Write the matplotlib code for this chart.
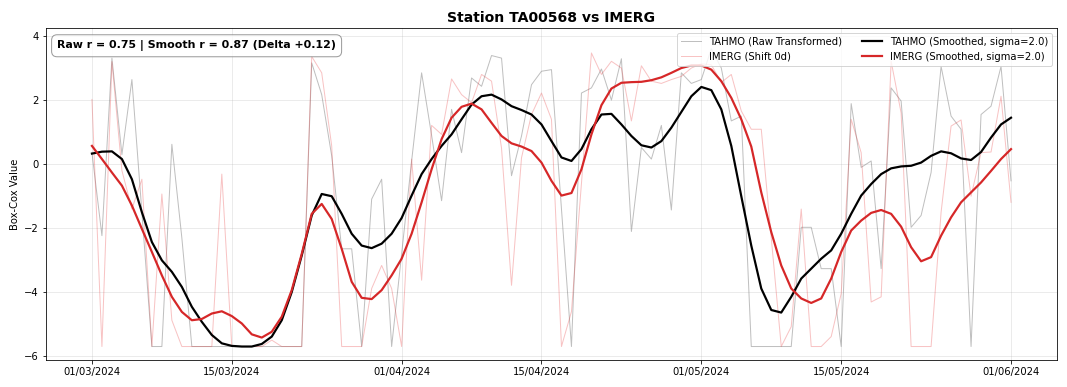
import matplotlib
matplotlib.use("Agg")
import matplotlib.pyplot as plt
import matplotlib.dates as mdates
import pandas as pd
import numpy as np

dates = pd.date_range("2024-03-01", "2024-06-01", freq="D")

tahmo_raw = [0.36, -2.23, 3.31, 0.3, 2.64, -1.5, -5.69, -5.69, 0.62, -2.3,
             -5.69, -5.69, -5.69, -5.69, -5.69, -5.69, -5.69, -5.69, -5.69, -5.69,
             -5.69, -5.69, 3.16, 2.17, 0.26, -2.64, -2.64, -5.69, -1.09, -0.47,
             -5.69, -2.8, 0.1, 2.85, 0.9, -1.14, 1.71, 0.36, 2.69, 2.43,
             3.39, 3.31, -0.36, 0.88, 2.48, 2.9, 2.95, -1.4, -5.69, 2.22,
             2.38, 2.97, 2.0, 3.29, -2.1, 0.52, 0.16, 1.21, -1.43, 2.85,
             2.52, 2.64, 3.6, 3.0, 1.35, 1.5, -5.69, -5.69, -5.69, -5.69,
             -5.69, -1.97, -1.97, -3.26, -3.26, -5.69, 1.89, -0.1, 0.1, -3.26,
             2.38, 1.97, -1.97, -1.6, -0.26, 3.05, 1.5, 1.09, -5.69, 1.55,
             1.81, 3.05, -0.52]

imerg_raw = [2.02, -5.69, 3.2, -0.2, -1.4, -0.47, -5.69, -0.93, -4.87, -5.69,
             -5.69, -5.69, -5.69, -0.31, -5.69, -5.69, -5.69, -5.69, -5.49, -5.69,
             -5.69, -5.69, 3.36, 2.85, 0.57, -5.69, -5.69, -5.69, -3.88, -3.16,
             -3.88, -5.69, 0.16, -3.62, 1.21, 0.93, 2.66, 2.17, 1.92, 2.8,
             2.59, 0.5, -3.78, 0.2, 1.55, 2.22, 1.4, -5.69, -4.6, -0.6,
             3.47, 2.8, 3.21, 3.0, 1.35, 3.07, 2.59, 2.52, 2.64, 2.74,
             3.0, 3.13, 3.1, 2.55, 2.8, 1.66, 1.09, 1.09, -2.3, -5.69,
             -5.07, -1.4, -5.69, -5.69, -5.38, -4.04, 1.4, 0.36, -4.3, -4.14,
             3.21, 1.6, -5.69, -5.69, -5.69, -1.5, 1.19, 1.38, -1.0, 0.36,
             0.38, 2.12, -1.19]

tahmo_smooth = [0.33, 0.39, 0.40, 0.16, -0.47, -1.5, -2.43, -3.0, -3.36, -3.83,
                -4.45, -4.92, -5.33, -5.59, -5.67, -5.69, -5.69, -5.61, -5.38, -4.87,
                -3.99, -2.85, -1.6, -0.93, -1.0, -1.55, -2.17, -2.54, -2.62, -2.48,
                -2.17, -1.68, -0.98, -0.31, 0.16, 0.57, 0.93, 1.4, 1.86, 2.12,
                2.17, 2.02, 1.81, 1.69, 1.55, 1.24, 0.72, 0.21, 0.10, 0.47,
                1.09, 1.55, 1.57, 1.24, 0.88, 0.59, 0.52, 0.72, 1.14, 1.63,
                2.12, 2.41, 2.31, 1.71, 0.57, -1.0, -2.54, -3.88, -4.55, -4.63,
                -4.14, -3.57, -3.26, -2.95, -2.69, -2.17, -1.55, -0.98, -0.62, -0.31,
                -0.13, -0.07, -0.05, 0.05, 0.26, 0.4, 0.34, 0.18, 0.13, 0.38,
                0.83, 1.24, 1.45]

imerg_smooth = [0.57, 0.16, -0.26, -0.67, -1.29, -2.02, -2.74, -3.47, -4.14, -4.61,
                -4.87, -4.83, -4.66, -4.59, -4.74, -4.97, -5.31, -5.41, -5.23, -4.76,
                -3.93, -2.8, -1.55, -1.24, -1.71, -2.64, -3.67, -4.17, -4.21, -3.93,
                -3.47, -2.95, -2.17, -1.19, -0.16, 0.78, 1.45, 1.79, 1.89, 1.71,
                1.29, 0.88, 0.65, 0.55, 0.41, 0.05, -0.52, -0.98, -0.9, -0.16,
                0.93, 1.84, 2.36, 2.54, 2.56, 2.57, 2.62, 2.71, 2.85, 3.0,
                3.08, 3.08, 2.95, 2.59, 2.07, 1.4, 0.55, -0.88, -2.12, -3.16,
                -3.88, -4.19, -4.33, -4.19, -3.57, -2.74, -2.07, -1.76, -1.52, -1.43,
                -1.55, -1.95, -2.59, -3.03, -2.9, -2.23, -1.66, -1.19, -0.88, -0.57,
                -0.21, 0.16, 0.47]

title = "Station TA00568 vs IMERG"
stats_text = "Raw r = 0.75 | Smooth r = 0.87 (Delta +0.12)"

DPI = 72
fig = plt.figure(figsize=(1067 / DPI, 387 / DPI), dpi=DPI)
ax = fig.add_axes([0.0431, 0.0698, 0.9475, 0.8579])

ax.plot(dates, tahmo_raw, color="gray", alpha=0.5, lw=1.0, label="TAHMO (Raw Transformed)")
ax.plot(dates, imerg_raw, color="#e8393b", alpha=0.3, lw=1.0, label="IMERG (Shift 0d)")
ax.plot(dates, tahmo_smooth, color="black", lw=2.2, label="TAHMO (Smoothed, sigma=2.0)")
ax.plot(dates, imerg_smooth, color="#d62728", lw=2.2, label="IMERG (Smoothed, sigma=2.0)")

ax.set_title(title, fontsize=14, fontweight="bold")
ax.set_ylabel("Box-Cox Value", fontsize=10)
ax.set_ylim(-6.11, 4.25)
ax.xaxis.set_major_locator(mdates.DayLocator(bymonthday=[1, 15]))
ax.xaxis.set_major_formatter(mdates.DateFormatter("%d/%m/%Y"))
ax.tick_params(labelsize=10)
ax.grid(True, alpha=0.3)
ax.legend(loc="upper right", ncol=2, fontsize=10)
ax.text(0.011, 0.963, stats_text, transform=ax.transAxes, va="top", ha="left",
        fontsize=11, fontweight="bold",
        bbox=dict(boxstyle="round,pad=0.5", facecolor="white", edgecolor="gray", alpha=0.8))

fig.savefig("out.png", dpi=DPI)
